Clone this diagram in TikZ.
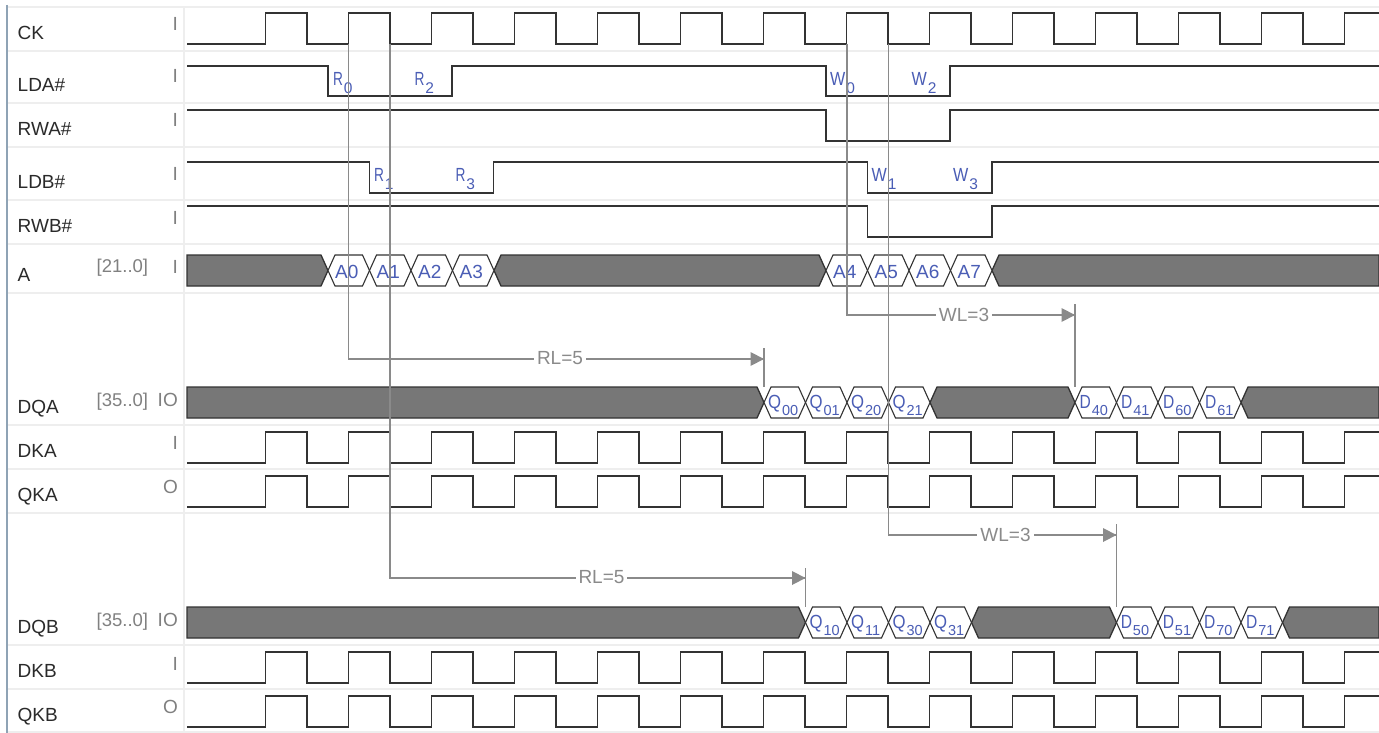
\documentclass[tikz,border=0pt]{standalone}
\usepackage{fontspec}
\usepackage{graphicx}
\setmainfont{Liberation Sans}
\definecolor{sep}{HTML}{EEEEEE}
\definecolor{frameb}{HTML}{8FA3B5}
\definecolor{sig}{HTML}{333333}
\definecolor{busf}{HTML}{777777}
\definecolor{lat}{HTML}{8A8A8A}
\definecolor{txtb}{HTML}{4A5DB5}
\definecolor{nm}{HTML}{2A2A2A}
\definecolor{dirc}{HTML}{808080}
% #1 letter, #2 subscript, #3 horizontal squeeze of the letter, #4 subscript size, #5 drop
\newcommand{\zsub}[5]{\scalebox{#3}[1]{\fontsize{19}{19}\selectfont #1}\kern0.8pt\raisebox{-#5pt}{\fontsize{#4}{#4}\selectfont #2}}
\tikzset{
 x=1pt,y=-1pt,
 sepline/.style={draw=sep,line width=1.2pt},
 wave/.style={draw=sig,line width=1.3pt,line join=miter},
 busbar/.style={draw=sig,fill=busf,line width=1.3pt},
 hexa/.style={draw=sig,fill=white,line width=1.1pt},
 latline/.style={draw=lat,line width=1.2pt},
 latarrow/.style={fill=lat,draw=none},
 sigtxt/.style={anchor=base west,inner sep=0pt,text=nm,font=\fontsize{19}{20}\selectfont},
 rangetxt/.style={anchor=base west,inner sep=0pt,text=dirc,font=\fontsize{18.5}{20}\selectfont},
 dirtxt/.style={anchor=base east,inner sep=0pt,text=dirc,font=\fontsize{19}{20}\selectfont},
 bluetxt/.style={anchor=base west,inner sep=0pt,text=txtb,font=\fontsize{19}{20}\selectfont},
 lattxt/.style={fill=white,inner sep=3pt,text=lat,font=\fontsize{19}{20}\selectfont},
}
\newcommand{\clockwave}[2]{%
 \draw[wave] (187,#2)
 \foreach \k in {0,2,...,24}{ -- ({265.5+41.5*\k},#2) -- ({265.5+41.5*\k},#1) -- ({265.5+41.5*(\k+1)},#1) -- ({265.5+41.5*(\k+1)},#2) }
 -- ({265.5+41.5*26},#2) -- ({265.5+41.5*26},#1) -- (1379,#1);}
\newcommand{\pulsewave}[6]{%
 \draw[wave] (187,#1) -- (#3,#1) -- (#3,#2) -- (#4,#2) -- (#4,#1) -- (#5,#1) -- (#5,#2) -- (#6,#2) -- (#6,#1) -- (1379,#1);}
\newcommand{\onepulse}[4]{%
 \draw[wave] (187,#1) -- (#3,#1) -- (#3,#2) -- (#4,#2) -- (#4,#1) -- (1379,#1);}
\newcommand{\darkmid}[4]{\draw[busbar] ({#3},{(#1+#2)/2}) -- ({#3+7},#1) -- ({#4-7},#1) -- ({#4},{(#1+#2)/2}) -- ({#4-7},#2) -- ({#3+7},#2) -- cycle;}
\newcommand{\darkstart}[3]{\draw[busbar] (187,#1) -- ({#3-7},#1) -- ({#3},{(#1+#2)/2}) -- ({#3-7},#2) -- (187,#2) -- cycle;}
\newcommand{\darkend}[3]{\draw[busbar] (1379,#1) -- ({#3+7},#1) -- ({#3},{(#1+#2)/2}) -- ({#3+7},#2) -- (1379,#2) -- cycle;}
\newcommand{\hexcell}[4]{\draw[hexa] ({#3},{(#1+#2)/2}) -- ({#3+7},#1) -- ({#4-7},#1) -- ({#4},{(#1+#2)/2}) -- ({#4-7},#2) -- ({#3+7},#2) -- cycle;}
\begin{document}
\begin{tikzpicture}
\useasboundingbox (0,0) rectangle (1379,733);
\fill[white] (0,0) rectangle (1379,733);
\foreach \yy in {7,51,103,147,200,244,293,425,469,513,645,689,732}{\draw[sepline] (8,\yy) -- (1379,\yy);}
\draw[sepline] (184,7) -- (184,733);
\draw[draw=frameb,line width=1.8pt] (6.7,5) -- (6.7,733);
% names
\node[sigtxt] (nCK) at (17.5,39.5) {CK};
\node[sigtxt] (nLDA) at (17.5,92) {LDA\#};
\node[sigtxt] (nRWA) at (17.5,136) {RWA\#};
\node[sigtxt] (nLDB) at (17.5,188) {LDB\#};
\node[sigtxt] (nRWB) at (17.5,232) {RWB\#};
\node[sigtxt] (nA) at (17.5,281.5) {A};
\node[sigtxt] (nDQA) at (17.5,413.5) {DQA};
\node[sigtxt] (nDKA) at (17.5,457.5) {DKA};
\node[sigtxt] (nQKA) at (17.5,501.5) {QKA};
\node[sigtxt] (nDQB) at (17.5,633) {DQB};
\node[sigtxt] (nDKB) at (17.5,677) {DKB};
\node[sigtxt] (nQKB) at (17.5,721.5) {QKB};
\node[rangetxt] (rA) at (96.5,272.5) {[21..0]};
\node[rangetxt] (rDQA) at (96.5,406) {[35..0]};
\node[rangetxt] (rDQB) at (96.5,626) {[35..0]};
\foreach \nn/\yy/\tt in {dCK/31/I,dLDA/82.7/I,dRWA/127/I,dLDB/180/I,dRWB/224/I,dA/273/I,dDQA/406/IO,dDKA/449/I,dQKA/493/O,dDQB/626/IO,dDKB/670/I,dQKB/713/O}{
 \node[dirtxt] (\nn) at (178,\yy) {\tt};}
% waves
\clockwave{13}{44}
\pulsewave{66}{96}{328}{452}{826}{950}
\onepulse{110}{141}{826}{950}
\pulsewave{162}{193}{369.5}{493.5}{867.5}{992}
\onepulse{206}{237}{867.5}{992}
\clockwave{432}{463}
\clockwave{476}{507}
\clockwave{652}{683}
\clockwave{696}{727}
% A bus
\darkstart{255}{286}{328}
\darkmid{255}{286}{494}{826}
\darkend{255}{286}{992}
\foreach \a/\b in {328/369.5,369.5/411,411/452.5,452.5/494,826/867.5,867.5/909,909/950.5,950.5/992}{\hexcell{255}{286}{\a}{\b}}
% DQA bus
\darkstart{387}{418}{764}
\darkmid{387}{418}{930}{1075}
\darkend{387}{418}{1241}
\foreach \a/\b in {764/805.5,805.5/847,847/888.5,888.5/930,1075/1116.5,1116.5/1158,1158/1199.5,1199.5/1241}{\hexcell{387}{418}{\a}{\b}}
% DQB bus
\darkstart{607}{638}{805.5}
\darkmid{607}{638}{971.5}{1116.5}
\darkend{607}{638}{1282.5}
\foreach \a/\b in {805.5/847,847/888.5,888.5/930,930/971.5,1116.5/1158,1158/1199.5,1199.5/1241,1241/1282.5}{\hexcell{607}{638}{\a}{\b}}
% blue labels
\foreach \nn/\xx/\yy/\aa/\bb/\sq in {lR0/333/86/R/0/0.72,lR2/414.5/86/R/2/0.72,lW0/830/86/W/0/0.85,lW2/911.5/86/W/2/0.85,lR1/374/182/R/1/0.72,lR3/455.5/182/R/3/0.72,lW1/871.5/182/W/1/0.85,lW3/953/182/W/3/0.85}{
 \node[bluetxt] (\nn) at (\xx,\yy) {\zsub{\aa}{\bb}{\sq}{15.5}{8}};}
\foreach \nn/\xx/\tt in {a0/335/A0,a1/376.5/A1,a2/418/A2,a3/459.5/A3,a4/833/A4,a5/874.5/A5,a6/916/A6,a7/957.5/A7}{
 \node[bluetxt] (\nn) at (\xx,278.5) {\tt};}
\foreach \nn/\xx/\yy/\aa/\bb/\sq in {q00/768/408/Q/00/0.88,q01/809.5/408/Q/01/0.88,q20/851/408/Q/20/0.88,q21/892.5/408/Q/21/0.88,d40/1079.5/408/D/40/0.82,d41/1121/408/D/41/0.82,d60/1163/408/D/60/0.82,d61/1205/408/D/61/0.82,q10/809.5/628/Q/10/0.88,q11/851/628/Q/11/0.88,q30/892.5/628/Q/30/0.88,q31/934/628/Q/31/0.88,d50/1120.7/628/D/50/0.82,d51/1162.7/628/D/51/0.82,d70/1204/628/D/70/0.82,d71/1246/628/D/71/0.82}{
 \node[bluetxt] (\nn) at (\xx,\yy) {\zsub{\aa}{\bb}{\sq}{14.5}{7.5}};}
% latency markers
\coordinate (r1s) at (348.5,44); \coordinate (r1c) at (348.5,359); \coordinate (r1e) at (764,359);
\coordinate (r1t) at (764,348); \coordinate (r1b) at (764,386.5);
\coordinate (r2s) at (390,44); \coordinate (r2c) at (390,578); \coordinate (r2e) at (805.5,578);
\coordinate (r2t) at (805.5,568); \coordinate (r2b) at (805.5,606.5);
\coordinate (w1s) at (847,44); \coordinate (w1c) at (847,315); \coordinate (w1e) at (1075,315);
\coordinate (w1t) at (1075,304); \coordinate (w1b) at (1075,386.5);
\coordinate (w2s) at (888.5,44); \coordinate (w2c) at (888.5,535); \coordinate (w2e) at (1116.5,535);
\coordinate (w2t) at (1116.5,524); \coordinate (w2b) at (1116.5,606.5);
\foreach \p in {r1,r2,w1,w2}{
 \draw[latline] (\p s) -- (\p c) -- (\p e);
 \draw[latline] (\p t) -- (\p b);
 \fill[latarrow] (\p e) -- ++(-13.5,-7) -- ++(0,14) -- cycle;}
\node[lattxt] (lRLa) at (560,358.5) {RL=5};
\node[lattxt] (lRLb) at (601.5,577.5) {RL=5};
\node[lattxt] (lWLa) at (964,314.5) {WL=3};
\node[lattxt] (lWLb) at (1005.5,534.5) {WL=3};
\end{tikzpicture}
\end{document}
